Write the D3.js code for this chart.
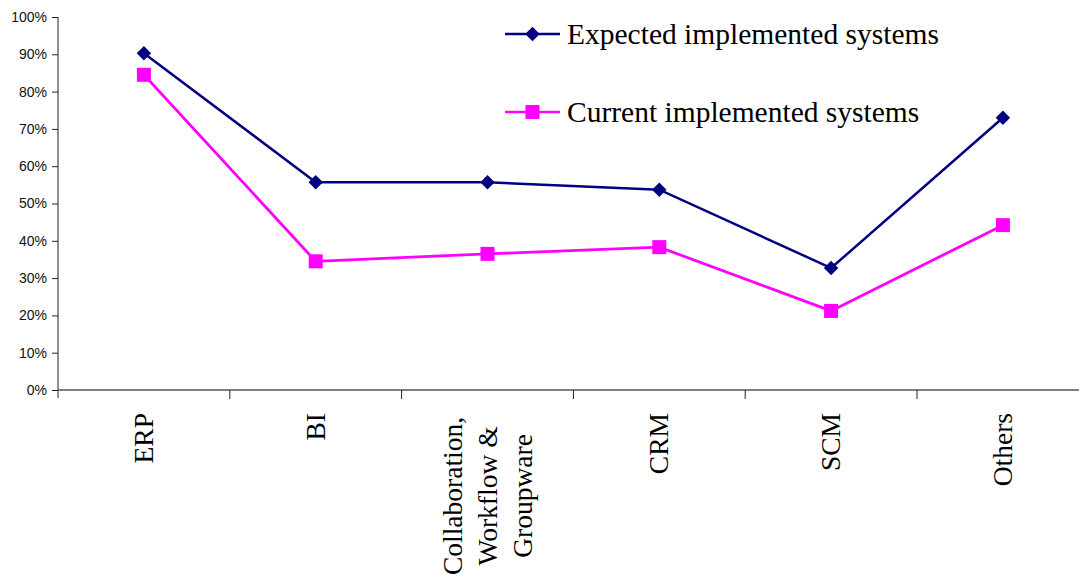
<!DOCTYPE html>
<html>
<head>
<meta charset="utf-8">
<script src="https://cdn.jsdelivr.net/npm/d3@7"></script>
<style>
  body { margin: 0; background: #fff; }
  .axis text.ylab { font-family: "Liberation Sans", Arial, sans-serif; font-size: 14px; fill: #111; }
  .xlab { font-family: "Liberation Serif", "Times New Roman", serif; font-size: 27.5px; fill: #000; }
  .legend text { font-family: "Liberation Serif", "Times New Roman", serif; font-size: 29.5px; fill: #000; }
</style>
</head>
<body>
<div id="chart"></div>
<script>
// categories along the x axis (label lines)
var categories = ["ERP", "BI", "Collaboration,|Workflow &|Groupware", "CRM", "SCM", "Others"];

// series values, fractions of 1
var expected = [0.903, 0.557, 0.557, 0.537, 0.327, 0.730];
var current  = [0.845, 0.345, 0.365, 0.383, 0.212, 0.442];

var seriesNames = ["Expected implemented systems", "Current implemented systems"];
var yTicks = [0, 0.1, 0.2, 0.3, 0.4, 0.5, 0.6, 0.7, 0.8, 0.9, 1.0];

var fullWidth = 1079, fullHeight = 580;
var margin = {top: 17, left: 58, bottom: 190};
var height = fullHeight - margin.top - margin.bottom;
var bandWidth = 171.8;
var width = bandWidth * categories.length;

var svg = d3.select("#chart").append("svg")
    .attr("width", fullWidth)
    .attr("height", fullHeight)
  .append("g")
    .attr("transform", "translate(" + margin.left + "," + margin.top + ")");

var xScale = d3.scaleBand()
    .domain(d3.range(categories.length))
    .range([0, width]);

var yScale = d3.scaleLinear()
    .domain([0, 1])
    .range([height, 0]);

// y axis
var yAxis = d3.axisLeft(yScale)
    .tickValues(yTicks)
    .tickFormat(d3.format(".0%"))
    .tickSize(6)
    .tickPadding(5);

var yg = svg.append("g").attr("class", "axis y").call(yAxis);
yg.select(".domain").attr("stroke", "#222").attr("d", "M0,0V" + (height + 8));
yg.selectAll(".tick line").attr("stroke", "#222");
yg.selectAll(".tick text").attr("class", "ylab");
yg.attr("font-size", null).attr("font-family", null);

// x axis: ticks at band boundaries
var xg = svg.append("g").attr("class", "axis x")
    .attr("transform", "translate(0," + height + ")");
xg.append("line")
    .attr("x1", 0).attr("x2", width)
    .attr("stroke", "#555").attr("stroke-width", 1.5);
xg.selectAll(".xtick")
    .data(d3.range(1, categories.length))
    .enter().append("line")
    .attr("class", "xtick")
    .attr("x1", function(d) { return d * bandWidth; })
    .attr("x2", function(d) { return d * bandWidth; })
    .attr("y1", 0).attr("y2", 9)
    .attr("stroke", "#222");

// rotated category labels
var labels = xg.selectAll(".xlab")
    .data(categories)
    .enter().append("text")
    .attr("class", "xlab")
    .attr("text-anchor", function(d) { return d.indexOf("|") >= 0 ? "middle" : "end"; })
    .attr("transform", function(d, i) {
        var cx = xScale(i) + xScale.bandwidth() / 2;
        var lines = d.split("|");
        var ty = lines.length > 1 ? 106 : 23;
        return "translate(" + cx + "," + ty + ") rotate(-90)";
    });

labels.each(function(d) {
    var lines = d.split("|");
    var t = d3.select(this);
    lines.forEach(function(line, j) {
        t.append("tspan")
            .attr("x", 0)
            .attr("y", (j - (lines.length - 1) / 2) * 35 + 9)
            .text(line);
    });
});

// lines
var line = d3.line()
    .x(function(d, i) { return xScale(i) + xScale.bandwidth() / 2; })
    .y(function(d) { return yScale(d); });

svg.append("path")
    .datum(current)
    .attr("fill", "none")
    .attr("stroke", "#ff00ff")
    .attr("stroke-width", 2.8)
    .attr("d", line);

svg.append("path")
    .datum(expected)
    .attr("fill", "none")
    .attr("stroke", "#000080")
    .attr("stroke-width", 2.5)
    .attr("d", line);

var diamond = d3.symbol().type(d3.symbolSquare).size(104);
var square = d3.symbol().type(d3.symbolSquare).size(196);

svg.selectAll(".pt-cur")
    .data(current)
    .enter().append("path")
    .attr("class", "pt-cur")
    .attr("d", square)
    .attr("fill", "#ff00ff")
    .attr("transform", function(d, i) {
        return "translate(" + (xScale(i) + xScale.bandwidth() / 2) + "," + yScale(d) + ")";
    });

svg.selectAll(".pt-exp")
    .data(expected)
    .enter().append("path")
    .attr("class", "pt-exp")
    .attr("d", diamond)
    .attr("fill", "#000080")
    .attr("transform", function(d, i) {
        return "translate(" + (xScale(i) + xScale.bandwidth() / 2) + "," + yScale(d) + ") rotate(45)";
    });

// legend
var legend = svg.append("g")
    .attr("class", "legend")
    .attr("transform", "translate(447,17)");

var legendColors = ["#000080", "#ff00ff"];
seriesNames.forEach(function(name, i) {
    var g = legend.append("g").attr("transform", "translate(0," + (i * 78) + ")");
    g.append("line")
        .attr("x1", 0).attr("x2", 55)
        .attr("stroke", legendColors[i]).attr("stroke-width", 2.5);
    g.append("path")
        .attr("d", i === 0 ? diamond : square)
        .attr("fill", legendColors[i])
        .attr("transform", "translate(27.5,0)" + (i === 0 ? " rotate(45)" : ""));
    g.append("text")
        .attr("x", 62)
        .attr("y", 10)
        .text(name);
});
</script>
</body>
</html>
